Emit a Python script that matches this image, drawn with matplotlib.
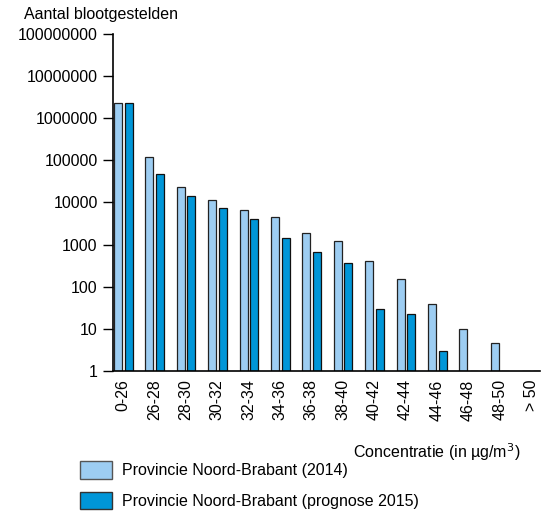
import matplotlib.pyplot as plt
from matplotlib.patches import Patch
from matplotlib.ticker import FixedLocator, NullLocator
import numpy as np

plt.rcParams['font.family'] = ['Liberation Sans', 'DejaVu Sans']

categories = ['0-26', '26-28', '28-30', '30-32', '32-34', '34-36', '36-38', '38-40',
              '40-42', '42-44', '44-46', '46-48', '48-50', '> 50']
# 2014 and prognose 2015 (0 = no exposure)
nb_2014 = [2300000, 123000, 23000, 11500, 6600, 4600, 1930, 1230, 403, 155, 38, 10, 4.7, 0]
nb_2015 = [2350000, 47000, 14600, 7500, 4100, 1470, 660, 373, 30, 22, 3.0, 0, 0, 0]
yticks = [1, 10, 100, 1000, 10000, 100000, 1000000, 10000000, 100000000]

light = '#9dcdf2'
dark = '#0096d8'

fig = plt.figure(figsize=(5.46, 5.17), dpi=100)
ax = fig.add_axes([0.207, 0.2824, 0.782, 0.652])

x = np.arange(len(categories))
v14 = np.array(nb_2014, dtype=float)
v15 = np.array(nb_2015, dtype=float)
# zero values drawn as flat bars on the baseline
h14 = np.where(v14 > 1, v14, 1.0) - 1
h15 = np.where(v15 > 1, v15, 1.0) - 1
ax.bar(x - 0.16, h14, 0.255, bottom=1, color=light, edgecolor='#222222', linewidth=0.9)
ax.bar(x + 0.175, h15, 0.255, bottom=1, color=dark, edgecolor='#111111', linewidth=0.9)

ax.set_yscale('log')
ax.set_ylim(1, 100000000)
ax.set_xlim(-0.32, 13.28)
ax.yaxis.set_major_locator(FixedLocator(yticks))
ax.yaxis.set_minor_locator(NullLocator())
ax.set_yticklabels([str(v) for v in yticks], fontsize=11.5)
ax.set_xticks(x)
ax.set_xticklabels(categories, rotation=90, fontsize=11.5)
ax.tick_params(axis='x', length=0, pad=6)
ax.tick_params(axis='y', length=7, width=1, direction='out', pad=4)
ax.spines['top'].set_visible(False)
ax.spines['right'].set_visible(False)
ax.spines['left'].set_linewidth(1.2)
ax.spines['bottom'].set_linewidth(1.2)

fig.text(24 / 546, 1 - 14 / 517, 'Aantal blootgestelden', fontsize=11.5, va='center', ha='left')
fig.text(520 / 546, 1 - 452 / 517, 'Concentratie (in µg/m$^3$)', fontsize=11.5, va='center', ha='right')

handles = [Patch(facecolor=light, edgecolor='#555555', linewidth=1.0),
           Patch(facecolor=dark, edgecolor='#333333', linewidth=1.0)]
fig.legend(handles, ['Provincie Noord-Brabant (2014)', 'Provincie Noord-Brabant (prognose 2015)'],
           loc='upper left', bbox_to_anchor=(74 / 546, 1 - 455 / 517), frameon=False,
           fontsize=11.5, handlelength=2.0, handleheight=1.3, labelspacing=0.8,
           handletextpad=0.6, borderaxespad=0)

fig.savefig('out.png', dpi=100)
